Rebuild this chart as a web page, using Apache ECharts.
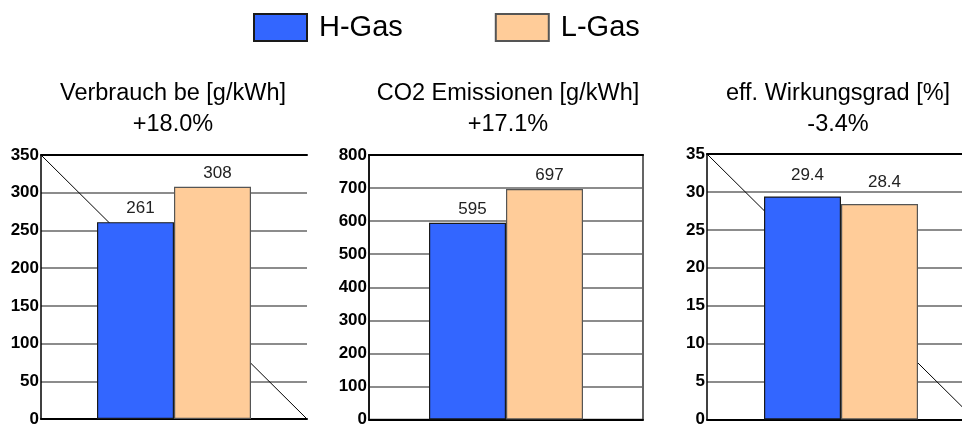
<!DOCTYPE html>
<html>
<head>
<meta charset="utf-8">
<script src="https://cdn.jsdelivr.net/npm/echarts@6/dist/echarts.min.js"></script>
<style>
html,body{margin:0;padding:0;background:#fff;overflow:hidden;width:962px;height:428px;}
#chart{width:980px;height:428px;}
</style>
</head>
<body>
<div id="chart"></div>
<script>
// ---- data ----
const seriesNames = ['H-Gas', 'L-Gas'];
const panelTitles = ['Verbrauch be [g/kWh]', 'CO2 Emissionen [g/kWh]', 'eff. Wirkungsgrad [%]'];
const panelChanges = ['+18.0%', '+17.1%', '-3.4%'];
const categories = [''];
const hGas = [261, 595, 29.4];
const lGas = [308, 697, 28.4];
const axisMax = [350, 800, 35];
const axisInterval = [50, 100, 5];
const hasDiagonal = [true, false, true];

// ---- layout / style ----
const grids = [
  {left: 41, top: 155, width: 266, height: 264},
  {left: 369, top: 155, width: 274, height: 268},
  {left: 707, top: 154, width: 268, height: 266}
];
const titleCenters = [173, 508, 838];
const labelDistance = [5, 5, 13];
const colors = ['#3366FF', '#FFCC99'];
const borders = ['#1a1a1a', '#555555'];
const FONT = '"Liberation Sans", Arial, sans-serif';

const chart = echarts.init(document.getElementById('chart'), null, {renderer: 'canvas'});

const xAxis = [], yAxis = [], series = [], title = [];
grids.forEach((g, i) => {
  xAxis.push({
    type: 'category', gridIndex: i, data: categories,
    axisLine: {show: true, lineStyle: {color: '#000', width: 2}},
    axisTick: {show: false}, axisLabel: {show: false}, splitLine: {show: false}
  });
});
grids.forEach((g, i) => {
  xAxis.push({
    type: 'value', gridIndex: i, min: 0, max: 1, position: 'top',
    axisLine: {show: true, onZero: false, lineStyle: {color: '#000', width: 2}},
    axisTick: {show: false}, axisLabel: {show: false}, splitLine: {show: false}
  });
  yAxis.push({
    type: 'value', gridIndex: i, min: 0, max: axisMax[i], interval: axisInterval[i],
    axisLine: {show: true, lineStyle: {color: '#000', width: 1.5}},
    axisTick: {show: false},
    axisLabel: {
      color: '#000', fontFamily: FONT, fontSize: 17, fontWeight: 'bold', margin: 2,
      padding: [0, 0, 9, 0]
    },
    splitLine: {show: true, lineStyle: {color: '#666', width: 1.5}}
  });
  title.push({
    text: panelTitles[i] + '\n' + panelChanges[i],
    left: titleCenters[i], top: 78, textAlign: 'center', padding: 0,
    textStyle: {fontFamily: FONT, fontSize: 23.5, fontWeight: 'normal', color: '#000', lineHeight: 31, align: 'center'}
  });
  [hGas, lGas].forEach((vals, s) => {
    series.push({
      name: seriesNames[s], type: 'bar', xAxisIndex: i, yAxisIndex: i,
      data: [vals[i]], barWidth: 77, barGap: '0%', z: 3,
      itemStyle: {color: colors[s], borderColor: borders[s], borderWidth: 1.2},
      label: {
        show: true, position: 'top', distance: labelDistance[i], offset: [5, 0],
        color: '#222', fontFamily: FONT, fontSize: 17
      },
      emphasis: {disabled: true}
    });
  });
  if (hasDiagonal[i]) {
    series.push({
      name: 'diag' + i, type: 'line', xAxisIndex: 3 + i, yAxisIndex: i,
      data: [[0, axisMax[i]], [1, 0]], symbol: 'none', z: 1, silent: true,
      lineStyle: {color: '#000', width: 1}
    });
  }
});

const option = {
  backgroundColor: '#fff',
  animation: false,
  title: title,
  legend: {
    data: seriesNames, left: 253, top: 13, padding: 0,
    itemWidth: 53, itemHeight: 27, itemGap: 92, icon: 'rect',
    selectedMode: false,
    textStyle: {fontFamily: FONT, fontSize: 29, color: '#000', padding: [0, 0, 0, 7]}
  },
  grid: grids.map((g, i) => Object.assign({}, g, i === 1 ? {show: true, borderColor: '#333', borderWidth: 1.5} : {})),
  xAxis: xAxis,
  yAxis: yAxis,
  series: series
};
chart.setOption(option);
</script>
</body>
</html>
